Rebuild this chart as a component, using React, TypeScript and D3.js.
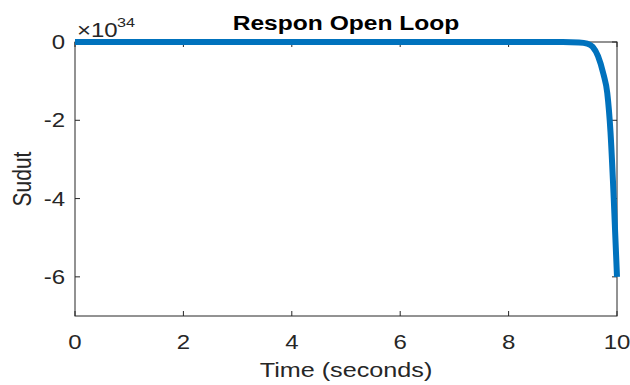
import React from 'react';
import * as d3 from 'd3';

// simulation output, angle in units of 1e34
const timeData = [0, 1, 2, 3, 4, 5, 6, 7, 8, 9, 9.3, 9.45, 9.55, 9.65, 9.75, 9.82, 9.88, 9.94, 10];
const sudutData = [0, 0, 0, 0, 0, 0, 0, 0, 0, 0, -0.01, -0.04, -0.12, -0.36, -0.82, -1.3, -2.3, -4.0, -6.0];

const xTicks = [0, 2, 4, 6, 8, 10];
const yTicks = [0, -2, -4, -6];

const W = 630, H = 385;
const left = 75, right = 617, top = 42, bottom = 316;
const axisColor = '#262626';
const font = "'Liberation Sans', Arial, Helvetica, sans-serif";
const stretch = 1.2; // the figure text is wider than plain Arial

function T(props: { x: number; y: number; size: number; anchor?: string; weight?: string; fill?: string; rotate?: number; children: any }) {
  const { x, y, size, anchor = 'start', weight = 'normal', fill = axisColor, rotate = 0 } = props;
  return (
    <text
      transform={`translate(${x},${y}) rotate(${rotate}) scale(${stretch},1)`}
      textAnchor={anchor}
      fontSize={size}
      fontWeight={weight}
      fill={fill}
    >
      {props.children}
    </text>
  );
}

function App() {
  const x = d3.scaleLinear().domain([0, 10]).range([left, right]);
  const y = d3.scaleLinear().domain([-7, 0]).range([bottom, top]);

  const points = timeData.map((t, i) => [t, sudutData[i]] as [number, number]);
  const line = d3.line<[number, number]>()
    .x(d => x(d[0]))
    .y(d => y(d[1]))
    .curve(d3.curveMonotoneX);

  const tickLen = 5;

  return (
    <svg width={W} height={H} style={{ position: 'absolute', left: 0, top: 0 }} fontFamily={font}>
      <rect x={0} y={0} width={W} height={H} fill="#fff" />

      {/* ticks, all four sides */}
      {xTicks.map(t => (
        <g key={'x' + t} stroke={axisColor} strokeWidth={1}>
          <line x1={x(t)} x2={x(t)} y1={bottom} y2={bottom - tickLen} />
          <line x1={x(t)} x2={x(t)} y1={top} y2={top + tickLen} />
        </g>
      ))}
      {yTicks.map(t => (
        <g key={'y' + t} stroke={axisColor} strokeWidth={1}>
          <line x1={left} x2={left + tickLen} y1={y(t)} y2={y(t)} />
          <line x1={right} x2={right - tickLen} y1={y(t)} y2={y(t)} />
        </g>
      ))}

      <rect x={left} y={top} width={right - left} height={bottom - top} fill="none" stroke={axisColor} strokeWidth={1} />

      <path d={line(points) || ''} fill="none" stroke="#0072BD" strokeWidth={6} strokeLinejoin="round" />

      {/* tick labels */}
      {xTicks.map(t => (
        <T key={'xl' + t} x={x(t)} y={349} size={20} anchor="middle">{t}</T>
      ))}
      {yTicks.map(t => (
        <T key={'yl' + t} x={65} y={y(t) + 7} size={20} anchor="end">{t}</T>
      ))}

      {/* exponent */}
      <T x={77} y={37} size={20}>{'\u00d710'}</T>
      <T x={117} y={27} size={13.5}>34</T>

      <T x={(left + right) / 2} y={30} size={20.5} anchor="middle" weight="bold" fill="#000">Respon Open Loop</T>
      <T x={(left + right) / 2} y={377} size={21} anchor="middle">Time (seconds)</T>
      <text transform={`translate(31,${(top + bottom) / 2}) rotate(-90) scale(1,${stretch})`} textAnchor="middle" fontSize={21} fill={axisColor}>Sudut</text>
    </svg>
  );
}

export default App;
